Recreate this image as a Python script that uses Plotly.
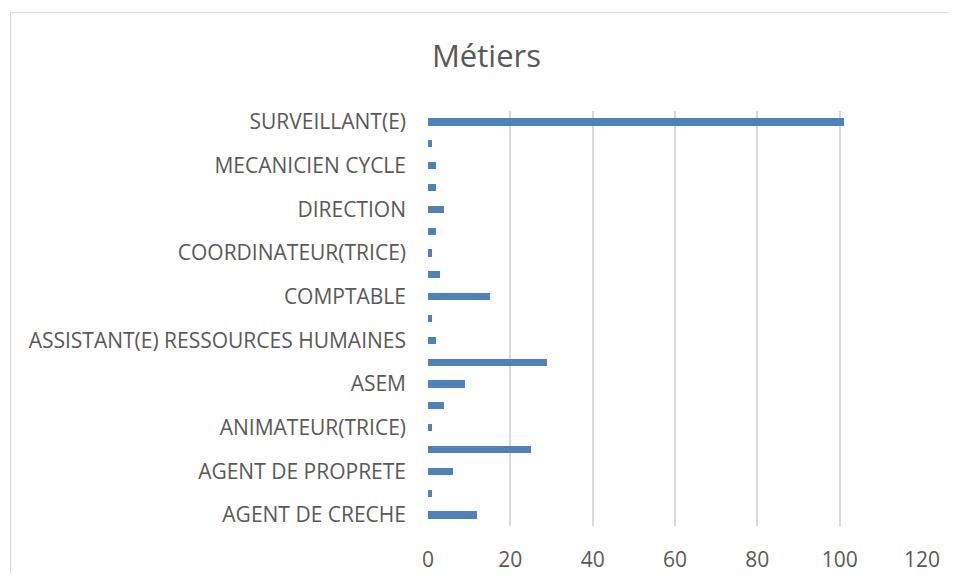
import plotly.graph_objects as go

# Categories, bottom to top (alphabetical, as in the source chart)
categories = [
    "AGENT DE CRECHE",
    "AGENT DE MAINTENANCE",
    "AGENT DE PROPRETE",
    "AGENT DE RESTAURATION",
    "ANIMATEUR(TRICE)",
    "ANIMATION",
    "ASEM",
    "ASSISTANT(E) ADMINISTRATIF(VE)",
    "ASSISTANT(E) RESSOURCES HUMAINES",
    "CHEF DE SERVICE",
    "COMPTABLE",
    "CONSEILLER(E)",
    "COORDINATEUR(TRICE)",
    "CUISINIER(E)",
    "DIRECTION",
    "EDUCATEUR(TRICE)",
    "MECANICIEN CYCLE",
    "SECRETAIRE",
    "SURVEILLANT(E)",
]
values = [12, 1, 6, 25, 1, 4, 9, 29, 2, 1, 15, 3, 1, 2, 4, 2, 2, 1, 101]

# Only every other category label is shown on the axis
shown_labels = categories[0::2]
x_ticks = [0, 20, 40, 60, 80, 100, 120]

FONT = "Open Sans"
GREY = "#595959"

W, H = 949, 565           # page has an 8px body margin
ML, MR, MT, MB = 420, 35, 103, 46.5
PW = W - ML - MR
PH = H - MT - MB

fig = go.Figure(
    go.Bar(
        x=values,
        y=categories,
        orientation="h",
        marker=dict(color="#4F81BD", line=dict(width=0)),
        width=0.33,
    )
)

fig.update_layout(
    width=W,
    height=H,
    paper_bgcolor="white",
    plot_bgcolor="white",
    margin=dict(l=ML, r=MR, t=MT, b=MB, autoexpand=False),
    showlegend=False,
    title=dict(
        text="Métiers",
        x=478.5 / W,
        xanchor="center",
        y=1 - 48 / H,
        yanchor="middle",
        font=dict(family=FONT, size=31, color=GREY),
    ),
    font=dict(family=FONT, color=GREY),
    bargap=0,
)

fig.update_xaxes(
    range=[0, 120],
    tickvals=x_ticks,
    ticktext=[str(v) for v in x_ticks],
    showgrid=True,
    gridcolor="#D9D9D9",
    gridwidth=1.5,
    zeroline=False,
    showline=False,
    ticks="",
    tickfont=dict(family=FONT, size=21, color=GREY),
    ticklabelstandoff=19,
)

fig.update_yaxes(
    type="category",
    categoryorder="array",
    categoryarray=categories,
    tickvals=shown_labels,
    ticktext=shown_labels,
    showgrid=False,
    zeroline=False,
    showline=False,
    ticks="",
    tickfont=dict(family=FONT, size=21, color=GREY),
    ticklabelstandoff=21,
)

# chart-area border: only the top and left edges are visible in the reference
x_left = (2.5 - ML) / PW
y_top = (H - MB - 4.5) / PH
border = dict(color="#D9D9D9", width=1)
fig.add_shape(type="line", xref="paper", yref="paper",
              x0=x_left, x1=1.2, y0=y_top, y1=y_top, line=border, layer="below")
fig.add_shape(type="line", xref="paper", yref="paper",
              x0=x_left, x1=x_left, y0=-0.3, y1=y_top, line=border, layer="below")

fig.write_html("out.html")
